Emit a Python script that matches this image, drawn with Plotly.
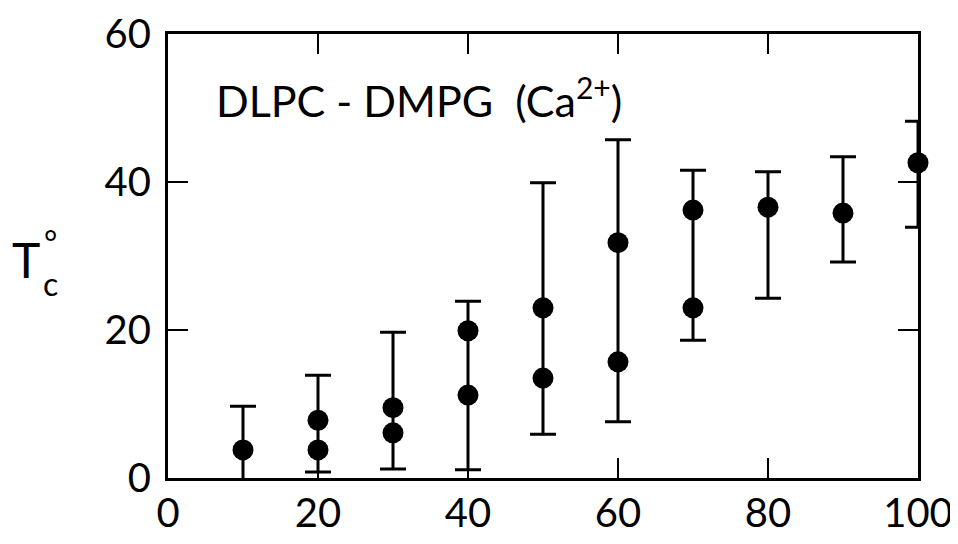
import plotly.graph_objects as go

# Data
conc = [10, 20, 30, 40, 50, 60, 70, 80, 90, 100]
tc_high = [3.8, 7.8, 9.5, 19.9, 23.0, 31.8, 36.2, 36.6, 35.8, 42.6]
tc_low = [None, 3.8, 6.1, 11.2, 13.5, 15.7, 23.0, None, None, None]
bar_top = [9.7, 13.9, 19.7, 23.9, 39.9, 45.7, 41.6, 41.4, 43.4, 48.2]
bar_bottom = [-1.2, 0.8, 1.2, 1.1, 5.9, 7.6, 18.6, 24.3, 29.2, 33.9]
x_ticks = [0, 20, 40, 60, 80, 100]
y_ticks = [0, 20, 40, 60]

err_plus = [t - h for t, h in zip(bar_top, tc_high)]
err_minus = [h - b for h, b in zip(tc_high, bar_bottom)]

FONT = "Lato"

fig = go.Figure()
fig.add_trace(go.Scatter(
    x=conc, y=tc_high, mode="markers",
    marker=dict(size=21, color="black"),
    error_y=dict(type="data", symmetric=False, array=err_plus, arrayminus=err_minus,
                 color="black", thickness=3, width=13),
    cliponaxis=False, showlegend=False,
))
fig.add_trace(go.Scatter(
    x=conc, y=tc_low, mode="markers",
    marker=dict(size=21, color="black"),
    cliponaxis=False, showlegend=False,
))

axis_common = dict(
    showgrid=False, zeroline=False, showline=True, linecolor="black", linewidth=3,
    mirror="ticks", ticks="inside", ticklen=20, tickwidth=2, tickcolor="black",
    tickfont=dict(family=FONT, size=40, color="black"), automargin=False,
    ticklabeloverflow="allow",
)
fig.update_xaxes(range=[0, 100], tickvals=x_ticks, ticklabelstandoff=-2, **axis_common)
fig.update_yaxes(range=[0, 60], tickvals=y_ticks, ticklabelstandoff=6, **axis_common)

fig.add_annotation(text="DLPC - DMPG  (Ca<sup>2+</sup>)", xref="paper", yref="paper",
                   x=(214 - 168) / 750, y=(478 - 97) / 444, xanchor="left", yanchor="middle",
                   showarrow=False, font=dict(family=FONT, size=43, color="black"))
fig.add_annotation(text="T", xref="paper", yref="paper",
                   x=(26 - 168) / 750, y=(478 - 259) / 444, xanchor="center", yanchor="middle",
                   showarrow=False, font=dict(family=FONT, size=48, color="black"))
fig.add_annotation(text="°<br>c", xref="paper", yref="paper",
                   x=(50 - 168) / 750, y=(478 - 262) / 444, xanchor="center", yanchor="middle",
                   showarrow=False, font=dict(family=FONT, size=32, color="black"))

# page body adds an 8px offset; size the figure so the plot box lands at (168..918, 34..478)
fig.update_layout(
    width=950, height=536,
    margin=dict(l=160, r=40, t=26, b=66),
    plot_bgcolor="white", paper_bgcolor="white",
)

fig.write_html("out.html")
